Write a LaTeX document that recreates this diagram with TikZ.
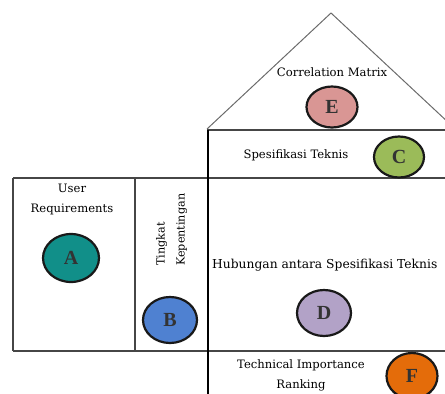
\documentclass[tikz,border=0pt]{standalone}
\usepackage{fontspec}
\usetikzlibrary{shapes.geometric}
\setmainfont{DejaVu Serif}
\newfontfamily\letterfont{Liberation Serif}
\definecolor{cA}{RGB}{17,143,137}
\definecolor{cB}{RGB}{79,129,209}
\definecolor{cC}{RGB}{155,187,89}
\definecolor{cD}{RGB}{178,162,199}
\definecolor{cE}{RGB}{217,150,148}
\definecolor{cF}{RGB}{228,108,10}
\definecolor{ln}{RGB}{70,70,70}
\begin{document}
\begin{tikzpicture}[x=1pt,y=-1pt,
  frame/.style={draw=ln,line width=1.2pt},
  lbl/.style={font=\fontsize{11.6}{20}\selectfont,inner sep=0pt,align=center},
  badge/.style={ellipse,draw=black!90,line width=2.2pt,minimum width=54pt,minimum height=46pt,inner sep=0pt,font=\letterfont\bfseries\fontsize{20}{20}\selectfont,text=black!80}]
\useasboundingbox (0,0) rectangle (445,394);
\clip (0,0) rectangle (445,394);
% roof
\draw[frame,line width=1pt,draw=ln!80] (207,129) -- (331,13) -- (450,124);
% rows and columns
\draw[frame] (207,130) -- (450,130);
\draw[frame] (13,178) -- (450,178);
\draw[frame] (13,351) -- (450,351);
\draw[frame] (13,178) -- (13,351);
\draw[frame] (135,178) -- (135,351);
\draw[draw=black,line width=1.2pt] (208,130) -- (208,400);
% texts
\node[lbl] (tE) at (332,72) {Correlation Matrix};
\node[lbl] (tC) at (296,155) {Spesifikasi Teknis};
\node[lbl] (tA) at (72,199) {User\\Requirements};
\node[lbl,rotate=90,align=left,anchor=north west,font=\fontsize{11.2}{20}\selectfont] (tB) at (156,266) {Tingkat\\Kepentingan};
\node[lbl,anchor=west,font=\fontsize{12.3}{20}\selectfont] (tD) at (212,265) {Hubungan antara Spesifikasi Teknis};
\node[lbl] (tF) at (301,375) {Technical Importance\\Ranking};
% badges
\node[badge,fill=cE,minimum width=51pt,minimum height=41pt] (E) at (332,107) {E};
\node[badge,fill=cC,minimum width=50pt,minimum height=41pt] (C) at (399,157) {C};
\node[badge,fill=cA,minimum width=56pt,minimum height=48pt] (A) at (71,258) {A};
\node[badge,fill=cB] (B) at (170,320) {B};
\node[badge,fill=cD] (D) at (324,313) {D};
\node[badge,fill=cF,minimum width=51pt] (F) at (412,376) {F};
\end{tikzpicture}
\end{document}
